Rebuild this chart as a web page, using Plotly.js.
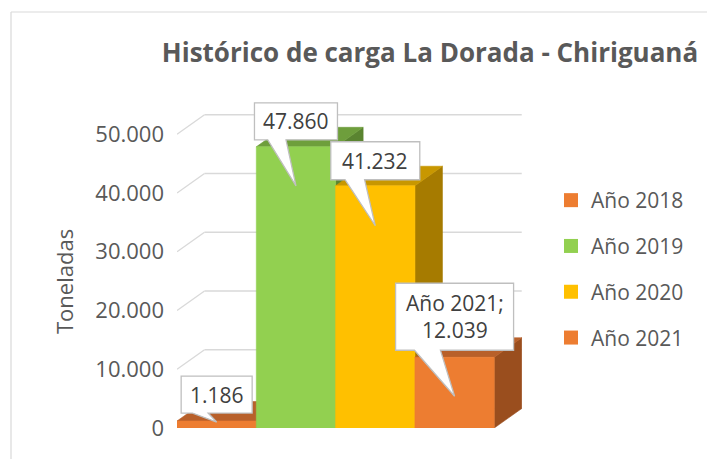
<!DOCTYPE html>
<html><head><meta charset="utf-8">
<script src="https://cdn.plot.ly/plotly-3.0.1.min.js"></script>
<style>html,body{margin:0;padding:0;background:#fff}#chart{width:707px;height:459px}</style>
</head><body><div id="chart"></div>
<script>
// ---- data ----
const seriesNames = ['Año 2018', 'Año 2019', 'Año 2020', 'Año 2021'];
const seriesValues = [1186, 47860, 41232, 12039];
const labelShowsName = [false, false, false, true];
const yTickValues = [0, 10000, 20000, 30000, 40000, 50000];
const chartTitle = 'Histórico de carga La Dorada - Chiriguaná';
const yTitle = 'Toneladas';

// ---- styles ----
const frontColors = ['#ED7D31', '#92D050', '#FFC000', '#ED7D31'];
const topColors   = ['#B8602A', '#6E9E3C', '#C89700', '#B8602A'];
const sideColors  = ['#9A4E1E', '#5A8430', '#A67B00', '#9A4E1E'];
const FONT = 'Open Sans, Noto Sans, sans-serif';
const TXT = '#595959';

// ---- geometry ----
const W = 707, H = 459, mL = 177, mR = 185, mT = 99, mB = 31;
const xRange = [-0.5, 3.85], yRange = [0, 56000];
const pw = W - mL - mR, ph = H - mT - mB;
const kx = pw / (xRange[1] - xRange[0]);
const ky = ph / (yRange[1] - yRange[0]);
const toPxX = x => mL + (x - xRange[0]) * kx;
const toPxY = y => H - mB - (y - yRange[0]) * ky;
const fromPxX = px => xRange[0] + (px - mL) / kx;
const fromPxY = py => yRange[0] + (H - mB - py) / ky;
const DX = 27.5 / kx, DY = 19.5 / ky;   // depth of the 3D bars
const HALF = 0.5;

const fmt = v => String(v).replace(/\B(?=(\d{3})+(?!\d))/g, '.');

const traces = [];
function poly(xs, ys, color) {
  traces.push({
    type: 'scatter', mode: 'lines', x: xs.concat([xs[0]]), y: ys.concat([ys[0]]),
    fill: 'toself', fillcolor: color, line: {color: color, width: 0.6},
    hoverinfo: 'skip', showlegend: false
  });
}
seriesValues.forEach((v, i) => {
  const l = i - HALF, r = i + HALF;
  poly([r, r + DX, r + DX, r], [0, DY, v + DY, v], sideColors[i]);   // side face
  poly([l, l + DX, r + DX, r], [v, v + DY, v + DY, v], topColors[i]); // top face
  poly([l, r, r, l], [0, 0, v, v], frontColors[i]);                 // front face
});
// legend entries
seriesNames.forEach((n, i) => {
  traces.push({
    type: 'scatter', mode: 'markers', x: [null], y: [null], name: n,
    legendgroup: 'g' + i, showlegend: true,
    marker: {symbol: 'square', size: 14, color: frontColors[i]}, hoverinfo: 'skip'
  });
});

// gridlines on back wall + left wall diagonals
const shapes = [];
yTickValues.forEach(t => {
  shapes.push({type: 'line', xref: 'x', yref: 'y', layer: 'below',
    x0: -HALF, y0: t, x1: -HALF + DX, y1: t + DY,
    line: {color: '#D9D9D9', width: 1.4}});
  shapes.push({type: 'line', xref: 'x', yref: 'y', layer: 'below',
    x0: -HALF + DX, y0: t + DY, x1: seriesValues.length - HALF + DX, y1: t + DY,
    line: {color: '#D9D9D9', width: 1.4}});
});

// callout labels
const boxW = [71, 83, 89, 118], boxH = [37, 37, 38, 67];
const tipDrop = [1, 39, 40, 39], tipGap = [9, 46, 46, 46];
const annotations = [];
seriesValues.forEach((v, i) => {
  const cx = toPxX(i);
  const tipY = toPxY(v) + tipDrop[i];
  const bb = tipY - tipGap[i], bt = bb - boxH[i];
  const bl = cx - boxW[i] / 2, br = cx + boxW[i] / 2;
  const wl = bl + 0.16 * boxW[i], wr = bl + 0.38 * boxW[i];
  const pts = [[bl, bt], [br, bt], [br, bb], [wr, bb], [cx, tipY], [wl, bb], [bl, bb]];
  const path = pts.map((p, k) => (k ? 'L' : 'M') + fromPxX(p[0]).toFixed(5) + ',' + fromPxY(p[1]).toFixed(2)).join(' ') + ' Z';
  shapes.push({type: 'path', xref: 'x', yref: 'y', layer: 'above', path: path,
    fillcolor: '#FFFFFF', line: {color: '#BFBFBF', width: 1.3}});
  const txt = labelShowsName[i] ? seriesNames[i] + ';<br>' + fmt(v) : fmt(v);
  annotations.push({xref: 'x', yref: 'y', x: fromPxX(cx), y: fromPxY((bt + bb) / 2),
    text: txt, showarrow: false, xanchor: 'center', yanchor: 'middle',
    font: {family: FONT, size: 21, color: '#404040'}});
});

// y-axis title (placed as in the original, below the plot centre)
const pxToPaperX = px => (px - mL) / pw;
const pxToPaperY = py => (H - mB - py) / ph;
annotations.push({xref: 'paper', yref: 'paper', x: pxToPaperX(64), y: pxToPaperY(282),
  text: yTitle, textangle: -90, showarrow: false, xanchor: 'center', yanchor: 'middle',
  font: {family: FONT, size: 22, color: TXT}});

// chart border (left and top edges visible)
shapes.push({type: 'line', xref: 'paper', yref: 'paper', layer: 'above',
  x0: pxToPaperX(11), y0: pxToPaperY(12), x1: pxToPaperX(11), y1: pxToPaperY(470),
  line: {color: '#D9D9D9', width: 1.2}});
shapes.push({type: 'line', xref: 'paper', yref: 'paper', layer: 'above',
  x0: pxToPaperX(11), y0: pxToPaperY(12), x1: pxToPaperX(720), y1: pxToPaperY(12),
  line: {color: '#D9D9D9', width: 1.2}});

const layout = {
  width: W, height: H,
  margin: {l: mL, r: mR, t: mT, b: mB, pad: 0},
  paper_bgcolor: '#FFFFFF', plot_bgcolor: 'rgba(0,0,0,0)',
  font: {family: FONT, color: TXT},
  title: {text: '<b>' + chartTitle + '</b>', xref: 'container', yref: 'container',
    x: 430 / W, xanchor: 'center', y: 1 - 53 / H, yanchor: 'middle',
    font: {family: FONT, size: 26, color: TXT}},
  xaxis: {range: xRange, visible: false, fixedrange: true},
  yaxis: {range: yRange, tickvals: yTickValues, ticktext: yTickValues.map(fmt),
    showgrid: false, zeroline: false, showline: false, ticks: '',
    tickfont: {family: FONT, size: 22, color: TXT}, ticklabelstandoff: 12,
    fixedrange: true},
  showlegend: true,
  legend: {x: pxToPaperX(551), xanchor: 'left', y: pxToPaperY(180), yanchor: 'top',
    font: {family: FONT, size: 21, color: TXT}, traceorder: 'grouped', tracegroupgap: 15.5,
    bgcolor: 'rgba(0,0,0,0)'},
  shapes: shapes, annotations: annotations
};
Plotly.newPlot('chart', traces, layout, {staticPlot: true, displayModeBar: false});
</script></body></html>
